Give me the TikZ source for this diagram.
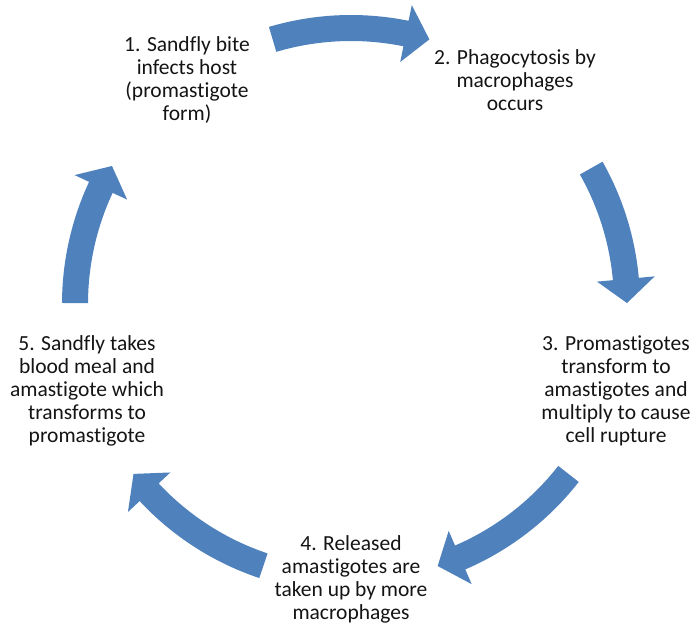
\documentclass[tikz,border=0pt]{standalone}
\usepackage{fontspec}
\setmainfont{Carlito}[Ligatures={NoCommon,NoRare,NoContextual}]
\definecolor{arrowblue}{RGB}{79,129,189}
\definecolor{txt}{RGB}{20,20,20}
\newcommand\cycarrow[2]{%
  \pgfmathsetmacro\hb{#2+5}%
  \fill[arrowfill] (#1:289pt) arc[start angle=#1, end angle=\hb, radius=289pt]
    -- (\hb:305pt) -- (#2:276pt) -- (\hb:247pt) -- (\hb:263pt)
    arc[start angle=\hb, end angle=#1, radius=263pt] -- cycle;}
\begin{document}
\begin{tikzpicture}[x=1pt,y=1pt,
  arrowfill/.style={fill=arrowblue},
  label/.style={align=center, inner sep=0pt, text=txt,
    font=\fontsize{21.5}{23}\selectfont}]
\useasboundingbox (0,0) rectangle (694,625);
\begin{scope}[shift={(351,321)}]
  \cycarrow{106.5}{73.5}
  \cycarrow{29.5}{0.2}
  \cycarrow{-38}{-71.7}
  \cycarrow{-108.5}{-142}
  \cycarrow{179.8}{150}
\end{scope}
\node[label] (n1) at (187,545) {1. Sandfly bite\\infects host\\(promastigote\\form)};
\node[label] (n2) at (515,545) {2. Phagocytosis by\\macrophages\\occurs};
\node[label] (n3) at (616,234) {3. Promastigotes\\transform to\\amastigotes and\\multiply to cause\\cell rupture};
\node[label] (n4) at (351,46) {4. Released\\amastigotes are\\taken up by more\\macrophages};
\node[label] (n5) at (87,234) {5. Sandfly takes\\blood meal and\\amastigote which\\transforms to\\promastigote};
\end{tikzpicture}
\end{document}
